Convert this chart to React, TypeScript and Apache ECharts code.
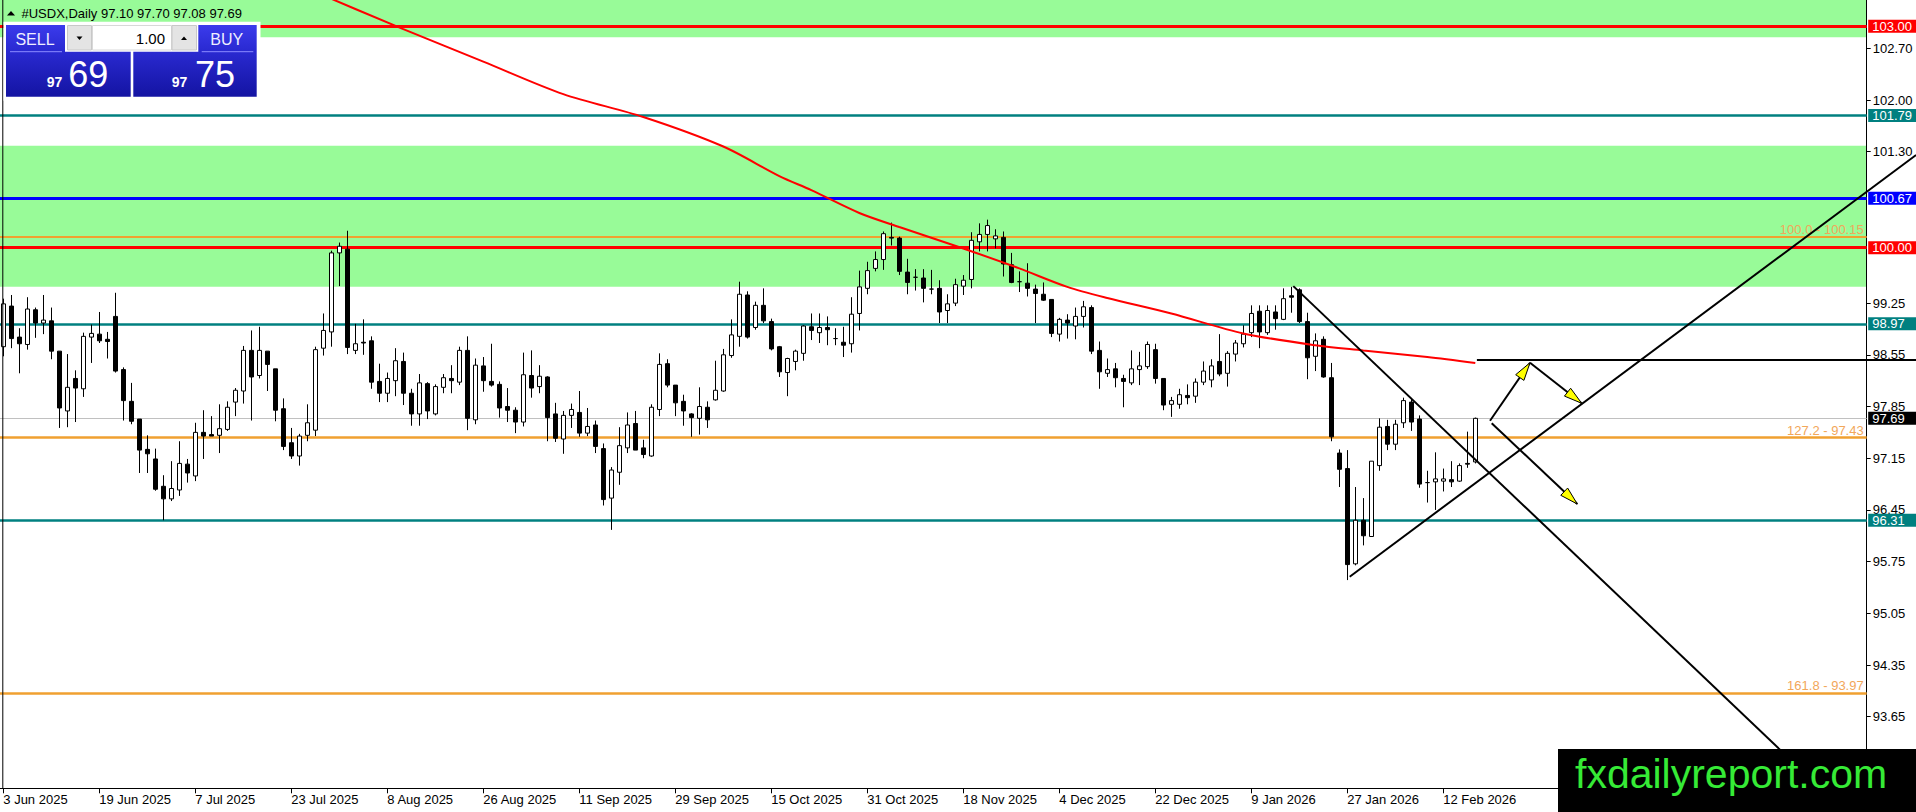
import React, { useEffect, useRef } from "react";
import * as echarts from "echarts";

// ---------- DATA ----------
const HOLIDAYS = ["2025-12-25", "2026-01-01"];
const MONTHS = ["Jan", "Feb", "Mar", "Apr", "May", "Jun", "Jul", "Aug", "Sep", "Oct", "Nov", "Dec"];

const open = [
  98.66, 99.21, 98.79, 98.69, 99.16, 98.98, 99.01, 98.6, 97.79, 98.23, 98.09, 98.79, 98.83, 98.76, 99.07, 98.35, 97.92, 97.68, 97.27, 97.14,
  96.77, 96.6, 96.72, 97.07, 96.91, 97.5, 97.47, 97.46, 97.54, 97.91, 98.06, 98.61, 98.27, 98.6, 98.36, 97.82, 97.36, 97.18, 97.46, 97.53,
  98.64, 98.86, 99.93, 99.98, 98.61, 98.72, 98.74, 98.19, 98.03, 98.2, 98.46, 98.03, 97.75, 98.16, 97.75, 98.11, 98.23, 98.18, 98.61, 97.67,
  98.4, 98.19, 98.15, 97.85, 97.8, 97.64, 98.27, 98.12, 98.25, 97.75, 97.41, 97.73, 97.77, 97.49, 97.6, 97.28, 96.61, 96.96, 97.29, 97.62,
  97.29, 97.18, 97.81, 98.43, 98.14, 97.92, 97.75, 97.69, 97.84, 97.94, 98.06, 98.54, 98.8, 99.36, 98.92, 99.22, 99.0, 98.66, 98.31, 98.46,
  98.57, 98.93, 98.85, 98.92, 98.77, 98.72, 98.7, 99.11, 99.45, 99.72, 99.84, 100.14, 100.13, 99.67, 99.6, 99.59, 99.44, 99.45, 99.15, 99.25,
  99.48, 99.57, 100.08, 100.18, 100.12, 100.14, 99.77, 99.54, 99.52, 99.44, 99.37, 99.3, 98.83, 99.02, 98.94, 99.07, 99.19, 98.61, 98.3, 98.36,
  98.23, 98.17, 98.35, 98.39, 98.62, 98.23, 97.88, 97.88, 98.0, 97.99, 98.18, 98.21, 98.46, 98.3, 98.56, 98.7, 98.85, 99.14, 98.85, 99.13,
  99.03, 99.35, 99.43, 99.0, 98.53, 98.76, 98.24, 97.22, 97.01, 95.72, 96.31, 96.09, 97.05, 97.58, 97.34, 97.63, 97.91, 97.68, 96.82, 96.83,
  96.84, 96.86, 96.84, 97.08, 97.1,
];
const high = [
  99.31, 99.36, 98.91, 99.33, 99.19, 99.36, 99.19, 98.6, 98.56, 98.34, 98.85, 98.96, 99.13, 98.86, 99.39, 98.38, 98.17, 97.68, 97.46, 97.28,
  96.92, 97.11, 97.38, 97.14, 97.63, 97.8, 97.72, 97.88, 97.92, 98.1, 98.67, 98.88, 98.93, 98.6, 98.36, 97.96, 97.56, 97.48, 97.88, 98.66,
  99.11, 99.96, 100.07, 100.23, 98.97, 99.03, 98.8, 98.43, 98.31, 98.64, 98.58, 98.09, 98.29, 98.18, 98.15, 98.29, 98.41, 98.66, 98.8, 98.5,
  98.52, 98.7, 98.19, 98.1, 97.84, 98.58, 98.61, 98.41, 98.26, 97.9, 97.79, 97.89, 98.06, 97.83, 97.66, 97.35, 97.03, 97.57, 97.77, 97.79,
  97.4, 97.88, 98.57, 98.49, 98.14, 98.01, 97.76, 98.11, 97.92, 98.47, 98.63, 99.03, 99.54, 99.41, 99.27, 99.45, 99.04, 98.67, 98.51, 98.62,
  98.95, 99.11, 99.11, 99.07, 98.91, 98.93, 99.33, 99.69, 99.81, 99.95, 100.22, 100.34, 100.15, 99.85, 99.71, 99.71, 99.7, 99.56, 99.37, 99.58,
  99.63, 100.21, 100.33, 100.38, 100.25, 100.22, 99.93, 99.68, 99.79, 99.5, 99.53, 99.3, 99.05, 99.1, 99.19, 99.28, 99.22, 98.73, 98.5, 98.44,
  98.28, 98.61, 98.59, 98.73, 98.7, 98.23, 97.98, 98.09, 98.15, 98.23, 98.46, 98.49, 98.83, 98.6, 98.75, 98.95, 99.22, 99.22, 99.22, 99.22,
  99.45, 99.47, 99.45, 99.12, 98.84, 98.8, 98.44, 97.27, 97.26, 96.76, 96.61, 97.11, 97.69, 97.67, 97.67, 97.97, 97.96, 97.73, 96.98, 97.23,
  97.01, 97.11, 97.08, 97.51, 97.7,
];
const low = [
  98.53, 98.64, 98.3, 98.62, 98.78, 98.83, 98.49, 97.56, 97.57, 97.64, 97.98, 98.44, 98.71, 98.5, 98.31, 97.66, 97.61, 96.95, 96.95, 96.71,
  96.31, 96.57, 96.64, 96.82, 96.84, 97.14, 97.45, 97.22, 97.52, 97.72, 97.89, 97.66, 98.23, 98.06, 97.65, 97.26, 97.14, 97.05, 97.38, 97.45,
  98.54, 98.66, 99.48, 98.56, 98.56, 98.55, 98.09, 97.91, 97.91, 97.99, 97.87, 97.59, 97.59, 97.68, 97.73, 98.03, 98.03, 98.14, 97.53, 97.61,
  98.05, 98.12, 97.7, 97.64, 97.49, 97.58, 97.97, 98.03, 97.38, 97.37, 97.21, 97.56, 97.44, 97.45, 97.22, 96.51, 96.18, 96.79, 97.22, 97.26,
  97.15, 97.17, 97.72, 98.11, 97.72, 97.59, 97.44, 97.47, 97.56, 97.93, 98.05, 98.51, 98.66, 98.77, 98.89, 98.98, 98.61, 98.25, 97.99, 98.34,
  98.47, 98.75, 98.71, 98.68, 98.68, 98.52, 98.58, 98.88, 99.37, 99.68, 99.7, 100.03, 99.63, 99.37, 99.42, 99.26, 99.37, 98.98, 98.98, 99.21,
  99.36, 99.45, 99.95, 99.95, 99.99, 99.61, 99.52, 99.4, 99.34, 98.98, 99.28, 98.79, 98.73, 98.77, 98.76, 98.92, 98.56, 98.09, 98.25, 98.11,
  97.84, 98.14, 98.14, 98.36, 98.16, 97.8, 97.71, 97.82, 97.88, 97.9, 98.14, 98.11, 98.26, 98.12, 98.46, 98.65, 98.79, 98.64, 98.82, 98.89,
  99.02, 99.12, 98.98, 98.22, 98.33, 98.24, 97.38, 96.76, 95.5, 95.7, 95.97, 96.09, 96.98, 97.26, 97.26, 97.56, 97.52, 96.75, 96.55, 96.45,
  96.7, 96.76, 96.83, 97.02, 97.08,
];
const close = [
  99.24, 98.77, 98.7, 99.17, 98.98, 99.02, 98.6, 97.83, 98.11, 98.1, 98.8, 98.84, 98.74, 98.73, 98.33, 97.93, 97.65, 97.26, 97.21, 96.73,
  96.6, 96.74, 97.08, 96.95, 97.5, 97.45, 97.45, 97.55, 97.84, 98.07, 98.61, 98.25, 98.61, 98.42, 97.8, 97.31, 97.18, 97.45, 97.63, 98.62,
  98.88, 99.93, 100.02, 98.65, 98.7, 98.71, 98.18, 98.03, 98.23, 98.47, 98.03, 97.75, 98.17, 97.79, 98.12, 98.24, 98.2, 98.61, 97.69, 98.41,
  98.2, 98.14, 97.83, 97.8, 97.64, 98.28, 98.1, 98.26, 97.7, 97.42, 97.73, 97.81, 97.49, 97.58, 97.31, 96.59, 96.99, 97.32, 97.6, 97.26,
  97.2, 97.84, 98.42, 98.14, 97.9, 97.79, 97.7, 97.85, 97.67, 98.07, 98.55, 98.82, 99.37, 98.79, 99.22, 99.01, 98.63, 98.32, 98.5, 98.6,
  98.94, 98.88, 98.92, 98.89, 98.77, 98.68, 99.1, 99.47, 99.69, 99.84, 100.19, 100.13, 99.68, 99.53, 99.6, 99.45, 99.44, 99.13, 99.24, 99.5,
  99.56, 100.1, 100.18, 100.3, 100.16, 99.78, 99.53, 99.54, 99.45, 99.38, 99.29, 98.84, 99.03, 98.98, 99.07, 99.2, 98.6, 98.32, 98.35, 98.24,
  98.19, 98.36, 98.4, 98.69, 98.23, 97.87, 97.93, 98.01, 97.97, 98.18, 98.33, 98.4, 98.29, 98.57, 98.71, 98.83, 99.11, 98.86, 99.15, 99.04,
  99.31, 99.33, 99.0, 98.51, 98.74, 98.25, 97.44, 97.0, 95.71, 96.31, 96.1, 97.11, 97.57, 97.34, 97.61, 97.93, 97.64, 96.8, 96.82, 96.87,
  96.87, 96.83, 97.05, 97.07, 97.69,
];

// 200-day moving average, read at a few bars
const maIndex = [36, 50, 60, 70, 80, 90, 97, 101, 107, 112, 120, 127, 133, 138, 146, 155, 164, 170, 178, 184];
const maValue = [103.6, 102.96, 102.52, 102.08, 101.77, 101.37, 100.97, 100.78, 100.47, 100.28, 99.99, 99.72, 99.47, 99.32, 99.11, 98.84, 98.68, 98.61, 98.52, 98.44];

const redLevels = [103.0, 100.0];
const tealLevels = [101.79, 98.97, 96.31];
const blueLevels = [100.67];
const fibRatios = ["100.0", "127.2", "161.8"];
const fibLevels = [100.15, 97.43, 93.97];
const bidPrice = 97.69;
const greenZones = [
  [102.849, 103.354],
  [99.472, 101.381],
];
const priceTicks = [93.65, 94.35, 95.05, 95.75, 96.45, 97.15, 97.85, 98.55, 99.25, 101.3, 102.0, 102.7];
const dateTickIndex = [0, 12, 24, 36, 48, 60, 72, 84, 96, 108, 120, 132, 144, 156, 168, 180];

// drawn objects, in (bar index, price)
const trendDown = [[161.25, 99.48], [226, 92.8]];
const trendUp = [[168.3, 95.546], [239.1, 101.255]];
const targetLine = [[184.2, 98.48], [239.1, 98.48]];
const arrowPaths = [
  [[185.84, 97.658], [190.84, 98.443]],
  [[190.84, 98.443], [197.3, 97.894]],
  [[186.05, 97.623], [196.75, 96.53]],
];

const header = "#USDX,Daily 97.10 97.70 97.08 97.69";
const lotSize = "1.00";
const sellBig = "69";
const buyBig = "75";
const priceHandle = "97";
const logoText = "fxdailyreport.com";

function buildDates(n: number): string[] {
  const out: string[] = [];
  const d = new Date(Date.UTC(2025, 5, 3));
  while (out.length < n) {
    const wd = d.getUTCDay();
    const iso = d.toISOString().slice(0, 10);
    if (wd !== 0 && wd !== 6 && !HOLIDAYS.includes(iso)) {
      out.push(`${d.getUTCDate()} ${MONTHS[d.getUTCMonth()]} ${d.getUTCFullYear()}`);
    }
    d.setUTCDate(d.getUTCDate() + 1);
  }
  return out;
}
const dates = buildDates(open.length);

// ---------- STYLE ----------
const FONT = "'Liberation Sans', Arial, sans-serif";
const W = 1916;
const H = 812;
const RED = "#ff0000";
const TEAL = "#008080";
const BLUE = "#0000ff";
const FIB = "#f0a030";
const FIB_TEXT = "#f2a75a";
const GREEN = "#98fb98";

function boxLabel(text: string, bg: string) {
  return {
    show: true,
    position: "end",
    distance: 1.5,
    formatter: text,
    color: "#ffffff",
    backgroundColor: bg,
    padding: [1, 4, 0, 4],
    width: 40,
    lineHeight: 12,
    fontSize: 13,
    fontFamily: FONT,
  };
}

export default function App() {
  const ref = useRef<HTMLDivElement>(null);

  useEffect(() => {
    document.body.style.margin = "0";
    document.body.style.overflow = "hidden";
    if (!ref.current) return;
    const chart = echarts.init(ref.current, undefined, { renderer: "svg" });

    const candles = open.map((o, i) => [i, o, close[i], low[i], high[i]]);
    const ma = maIndex.map((x, k) => [x, maValue[k]]);

    const levelLines: any[] = [];
    redLevels.forEach((v) =>
      levelLines.push({ yAxis: v, lineStyle: { color: RED, width: 3, type: "solid" }, label: boxLabel(v.toFixed(2), RED) })
    );
    tealLevels.forEach((v) =>
      levelLines.push({ yAxis: v, lineStyle: { color: TEAL, width: 2.5, type: "solid" }, label: boxLabel(v.toFixed(2), TEAL) })
    );
    blueLevels.forEach((v) =>
      levelLines.push({ yAxis: v, lineStyle: { color: BLUE, width: 3, type: "solid" }, label: boxLabel(v.toFixed(2), BLUE) })
    );
    fibLevels.forEach((v, k) =>
      levelLines.push({
        yAxis: v,
        lineStyle: { color: FIB, width: k === 0 ? 2 : 2.5, type: "solid" },
        label: {
          show: true,
          position: "insideEndTop",
          distance: [3, 1],
          formatter: `${fibRatios[k]} - ${v.toFixed(2)}`,
          color: FIB_TEXT,
          fontSize: 13,
          fontFamily: FONT,
        },
      })
    );
    levelLines.push({
      yAxis: bidPrice,
      lineStyle: { color: "#c0c0c0", width: 1, type: "solid" },
      label: boxLabel(bidPrice.toFixed(2), "#000000"),
    });

    const option: any = {
      animation: false,
      backgroundColor: "#ffffff",
      textStyle: { fontFamily: FONT },
      grid: { left: 0, right: 49.3, top: 0, bottom: 23.7, containLabel: false, outerBoundsMode: "none" },
      xAxis: {
        type: "value",
        min: -0.4125,
        max: 232.925,
        axisLine: { show: true, onZero: false, lineStyle: { color: "#000", width: 1 } },
        axisTick: { show: true, length: 5, customValues: dateTickIndex, lineStyle: { color: "#000" } },
        axisLabel: {
          customValues: dateTickIndex,
          formatter: (v: number) => dates[Math.round(v)] || "",
          align: "left",
          margin: 5,
          color: "#000",
          fontSize: 13,
          fontFamily: FONT,
        },
        splitLine: { show: false },
      },
      yAxis: {
        type: "value",
        position: "right",
        min: 92.681,
        max: 103.354,
        scale: true,
        axisLine: { show: true, onZero: false, lineStyle: { color: "#000", width: 1 } },
        axisTick: { show: true, inside: false, length: 4, customValues: priceTicks, lineStyle: { color: "#000" } },
        axisLabel: {
          customValues: priceTicks,
          formatter: (v: number) => v.toFixed(2),
          margin: 6,
          color: "#000",
          fontSize: 13,
          fontFamily: FONT,
        },
        splitLine: { show: false },
      },
      series: [
        {
          type: "candlestick",
          name: "USDX",
          data: candles,
          encode: { x: 0, y: [1, 2, 3, 4] },
          barWidth: 5,
          z: 2,
          itemStyle: {
            color: "#ffffff",
            color0: "#000000",
            borderColor: "#000000",
            borderColor0: "#000000",
            borderWidth: 1,
          },
          markArea: {
            silent: true,
            z: 0,
            itemStyle: { color: GREEN, opacity: 1 },
            data: greenZones.map((z) => [{ yAxis: z[0] }, { yAxis: z[1] }]),
          },
          markLine: {
            silent: true,
            z: 1,
            symbol: ["none", "none"],
            animation: false,
            data: levelLines,
          },
        },
        {
          type: "line",
          name: "MA",
          data: ma,
          smooth: 0.3,
          showSymbol: false,
          clip: true,
          z: 3,
          lineStyle: { color: "#ff0000", width: 2 },
        },
      ],
    };
    chart.setOption(option);

    const P = (pt: number[]) => chart.convertToPixel({ gridIndex: 0 } as any, pt) as number[];
    const g: any[] = [];
    const seg = (a: number[], b: number[], w = 2) =>
      g.push({ type: "line", z: 6, shape: { x1: a[0], y1: a[1], x2: b[0], y2: b[1] }, style: { stroke: "#000", lineWidth: w } });

    seg(P(trendDown[0]), P(trendDown[1]));
    seg(P(trendUp[0]), P(trendUp[1]));
    seg(P(targetLine[0]), P(targetLine[1]));
    arrowPaths.forEach((ap) => {
      const a = P(ap[0]);
      const b = P(ap[1]);
      seg(a, b);
      const dx = b[0] - a[0];
      const dy = b[1] - a[1];
      const len = Math.hypot(dx, dy);
      const ux = dx / len;
      const uy = dy / len;
      const L = 18;
      const hw = 5;
      const cx = b[0] - ux * L;
      const cy = b[1] - uy * L;
      g.push({
        type: "polygon",
        z: 7,
        shape: { points: [[b[0], b[1]], [cx - uy * hw, cy + ux * hw], [cx + uy * hw, cy - ux * hw]] },
        style: { fill: "#ffff00", stroke: "#000", lineWidth: 1 },
      });
    });

    // left frame
    g.push({ type: "line", z: 9, shape: { x1: 2.8, y1: 0, x2: 2.8, y2: 788 }, style: { stroke: "#000", lineWidth: 1 } });

    // header
    g.push({ type: "polygon", z: 10, shape: { points: [[7, 15.5], [15, 15.5], [11, 11]] }, style: { fill: "#000" } });
    g.push({
      type: "text",
      z: 10,
      x: 21.5,
      y: 13.5,
      style: { text: header, fill: "#000", font: `13px ${FONT}`, verticalAlign: "middle", align: "left" },
    });

    // one-click trading panel
    const blueGrad = {
      type: "linear",
      x: 0,
      y: 0,
      x2: 0,
      y2: 1,
      colorStops: [
        { offset: 0, color: "#3b3bec" },
        { offset: 0.35, color: "#2a2ad2" },
        { offset: 1, color: "#1414a2" },
      ],
    };
    g.push({ type: "rect", z: 10, shape: { x: 3.5, y: 21.7, width: 257, height: 79 }, style: { fill: "#ffffff" } });
    g.push({ type: "rect", z: 10, shape: { x: 6, y: 25, width: 124.7, height: 71.7 }, style: { fill: blueGrad } });
    g.push({ type: "rect", z: 10, shape: { x: 133.3, y: 25, width: 123.4, height: 71.7 }, style: { fill: blueGrad } });
    g.push({ type: "rect", z: 11, shape: { x: 65, y: 23.3, width: 133.3, height: 28.4 }, style: { fill: "#ffffff" } });
    g.push({ type: "rect", z: 11, shape: { x: 67.5, y: 25.5, width: 24, height: 24.5 }, style: { fill: "#e4e4e4", stroke: "#c8c8c8", lineWidth: 1 } });
    g.push({ type: "rect", z: 11, shape: { x: 92.5, y: 25.5, width: 79, height: 24.5 }, style: { fill: "#ffffff", stroke: "#d8d8d8", lineWidth: 1 } });
    g.push({ type: "rect", z: 11, shape: { x: 172, y: 25.5, width: 24.5, height: 24.5 }, style: { fill: "#e4e4e4", stroke: "#c8c8c8", lineWidth: 1 } });
    g.push({ type: "polygon", z: 12, shape: { points: [[76.5, 36.5], [82.5, 36.5], [79.5, 40]] }, style: { fill: "#000" } });
    g.push({ type: "polygon", z: 12, shape: { points: [[181, 40], [187, 40], [184, 36.5]] }, style: { fill: "#000" } });
    g.push({
      type: "text",
      z: 12,
      x: 165,
      y: 38,
      style: { text: lotSize, fill: "#000", font: `15px ${FONT}`, align: "right", verticalAlign: "middle" },
    });
    g.push({
      type: "text",
      z: 12,
      x: 35,
      y: 39,
      style: { text: "SELL", fill: "#eeeeff", font: `16px ${FONT}`, align: "center", verticalAlign: "middle" },
    });
    g.push({
      type: "text",
      z: 12,
      x: 226.7,
      y: 39,
      style: { text: "BUY", fill: "#eeeeff", font: `16px ${FONT}`, align: "center", verticalAlign: "middle" },
    });
    g.push({ type: "line", z: 12, shape: { x1: 10, y1: 51.7, x2: 62, y2: 51.7 }, style: { stroke: "#8c8cff", lineWidth: 1 } });
    g.push({ type: "line", z: 12, shape: { x1: 201.7, y1: 51.7, x2: 253.3, y2: 51.7 }, style: { stroke: "#8c8cff", lineWidth: 1 } });
    g.push({
      type: "text",
      z: 12,
      x: 46.7,
      y: 82.4,
      style: { text: priceHandle, fill: "#fff", font: `bold 14px ${FONT}`, align: "left", verticalAlign: "middle" },
    });
    g.push({
      type: "text",
      z: 12,
      x: 68.3,
      y: 74.7,
      style: { text: sellBig, fill: "#fff", font: `36px ${FONT}`, align: "left", verticalAlign: "middle" },
    });
    g.push({
      type: "text",
      z: 12,
      x: 171.7,
      y: 82.4,
      style: { text: priceHandle, fill: "#fff", font: `bold 14px ${FONT}`, align: "left", verticalAlign: "middle" },
    });
    g.push({
      type: "text",
      z: 12,
      x: 195,
      y: 74.7,
      style: { text: buyBig, fill: "#fff", font: `36px ${FONT}`, align: "left", verticalAlign: "middle" },
    });

    // logo
    g.push({ type: "rect", z: 20, shape: { x: 1558, y: 749, width: 358, height: 63 }, style: { fill: "#000" } });
    g.push({
      type: "text",
      z: 21,
      x: 1575,
      y: 773.5,
      style: { text: logoText, fill: "#36ea36", font: `41px ${FONT}`, align: "left", verticalAlign: "middle" },
    });

    chart.setOption({ graphic: g });

    return () => chart.dispose();
  }, []);

  return <div ref={ref} style={{ width: W, height: H }} />;
}
